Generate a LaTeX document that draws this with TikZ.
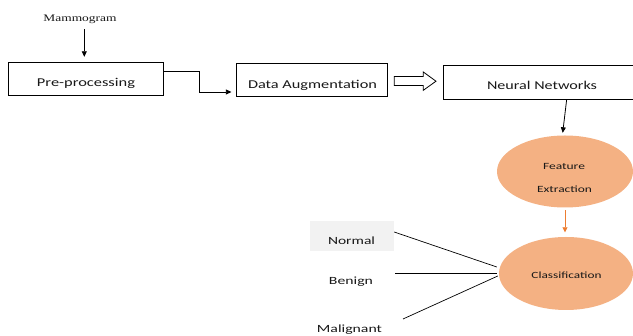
\documentclass[tikz,border=0pt]{standalone}
\usepackage{fontspec}
\setmainfont{Carlito}
\newfontfamily\timesf{Liberation Serif}
\usetikzlibrary{arrows.meta,calc,shapes.geometric}
\definecolor{peach}{HTML}{F4B183}
\definecolor{orng}{HTML}{ED7D31}
\definecolor{graybg}{HTML}{F2F2F2}
\definecolor{txt}{HTML}{181818}
\newcommand\hw[2]{\resizebox{#1pt}{\height}{#2}}
\begin{document}
\begin{tikzpicture}[x=1pt,y=-1pt,
  boxn/.style={draw=black,line width=0.8pt,inner sep=0pt,minimum width=#1},
  lbl/.style={inner sep=0pt,anchor=base,text=txt},
  oval/.style={ellipse,fill=peach,draw=none,inner sep=0pt},
  arr/.style={line width=0.8pt,-{Triangle[length=5.5pt,width=5pt]}},
  oarr/.style={line width=0.8pt,draw=orng,-{Triangle[length=5pt,width=5pt]}},
  ln/.style={line width=0.7pt}]
\useasboundingbox (0,0) rectangle (633,336);
% boxes
\node[boxn=155pt,minimum height=33pt] (pre) at (85.5,79.2) {};
\node[boxn=151pt,minimum height=32.5pt] (da) at (311.8,80) {};
\node[inner sep=0pt,minimum width=189pt,minimum height=33.5pt] (nn) at (538.5,82.3) {};
\draw[line width=0.8pt] (nn.north east) -- (nn.north west) -- (nn.south west) -- (nn.south east);
\node[oval,minimum width=136pt,minimum height=72pt] (fe) at (565,171.5) {};
\node[oval,minimum width=134pt,minimum height=73pt] (cls) at (566,273.5) {};
\node[fill=graybg,inner sep=0pt,minimum width=84pt,minimum height=30pt] (nb) at (352,236) {};
% texts
\node[lbl,font=\timesf\fontsize{10}{12}\selectfont] (mam) at (80,22) {\hw{73}{Mammogram}};
\node[lbl,font=\fontsize{12}{14}\selectfont] (pret) at (86,86.7) {\hw{98}{Pre-processing}};
\node[lbl,font=\fontsize{12}{14}\selectfont] (dat) at (312.5,88.3) {\hw{129}{Data Augmentation}};
\node[lbl,font=\fontsize{12}{14}\selectfont] (nnt) at (542,90) {\hw{110}{Neural Networks}};
\node[lbl,font=\fontsize{9.5}{11}\selectfont] (fe1) at (564,170) {\hw{42}{Feature}};
\node[lbl,font=\fontsize{9.5}{11}\selectfont] (fe2) at (564.5,193) {\hw{55}{Extraction}};
\node[lbl,font=\fontsize{9.5}{11}\selectfont] (clst) at (566.5,279) {\hw{70}{Classification}};
\node[lbl,font=\fontsize{11}{13}\selectfont] (nor) at (351.5,244.7) {\hw{47}{Normal}};
\node[lbl,font=\fontsize{11}{13}\selectfont] (ben) at (351,285) {\hw{44}{Benign}};
\node[lbl,font=\fontsize{11}{13}\selectfont] (mal) at (349.5,332.7) {\hw{65}{Malignant}};
% connectors
\draw[arr,shorten <=5pt,shorten >=5.5pt] (mam.south -| 84.3,0) -- (pre.north -| 84.3,0);
\draw[arr,shorten >=4.5pt] ($(pre.north east)+(0,9.3)$) -- ++(36,0) |- ($(da.west)+(0,12)$);
\draw[line width=0.8pt] (394.3,76.5) -- (423.3,76.5) -- (423.3,72) -- (436,81.2) -- (423.3,90.3) -- (423.3,85.5) -- (394.3,85.5) -- cycle;
\draw[arr] (nn.south -| 566.7,0) -- ($(fe.north)+(-2.3,-2.5)$);
\draw[oarr,shorten <=2.5pt,shorten >=4.5pt] (fe.south) -- (fe.south |- cls.north);
\coordinate (bl) at (395,273);
\coordinate (ml) at (403,319);
\draw[ln] ($(nb.east)+(0,-4)$) -- ($(cls.west)+(-2,-6.5)$);
\draw[ln] (bl) -- ($(cls.west)+(-2,-0.5)$);
\draw[ln] (ml) -- ($(cls.west)+(-1,2.5)$);
\end{tikzpicture}
\end{document}
